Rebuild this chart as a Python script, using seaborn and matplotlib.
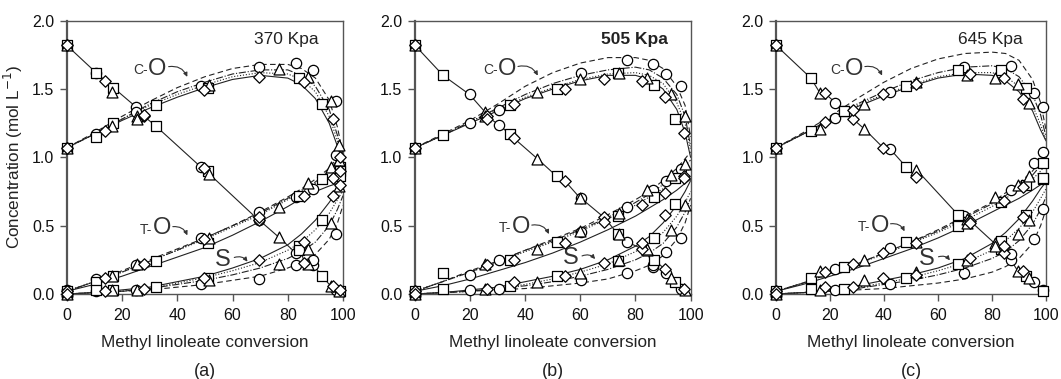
import numpy as np
import pandas as pd
import matplotlib
matplotlib.use("Agg")
import matplotlib.pyplot as plt
import seaborn as sns
from matplotlib.patches import FancyArrowPatch

# ---------------- data ----------------
PANELS = ["(a)", "(b)", "(c)"]
PRESSURES = ["370 Kpa", "505 Kpa", "645 Kpa"]

# Panel (a) experimental points (conversion %, concentrations mol/L)
A_CIR_X = [0, 10.6, 25, 48.5, 69.5, 82.9, 89.3, 97.5]
A_CIR_ML = [1.82, 1.62, 1.37, 0.93, 0.54, 0.30, 0.21, 0.03]
A_CIR_CO = [1.07, 1.17, 1.33, 1.52, 1.66, 1.69, 1.64, 1.41]
A_CIR_TO = [0.03, 0.11, 0.21, 0.41, 0.60, 0.71, 0.77, 1.02]
A_CIR_S = [0.00, 0.02, 0.03, 0.07, 0.11, 0.21, 0.25, 0.44]

A_SQ_X = [0, 10.6, 16.9, 32.2, 51, 84.2, 92.5, 99]
A_SQ_ML = [1.82, 1.62, 1.51, 1.23, 0.90, 0.35, 0.13, 0.02]
A_SQ_CO = [1.07, 1.15, 1.25, 1.38, 1.51, 1.58, 1.39, 0.93]
A_SQ_TO = [0.02, 0.09, 0.13, 0.24, 0.37, 0.72, 0.84, 0.90]
A_SQ_S = [0.00, 0.03, 0.03, 0.05, 0.12, 0.32, 0.545, 0.86]

A_TRI_X = [0, 16.3, 25.6, 51.5, 76.8, 87.5, 95.6, 98.5]
A_TRI_ML = [1.82, 1.48, 1.30, 0.88, 0.415, 0.22, 0.056, 0.02]
A_TRI_CO = [1.07, 1.23, 1.28, 1.53, 1.65, 1.59, 1.41, 1.09]
A_TRI_TO = [0.02, 0.13, 0.22, 0.41, 0.64, 0.81, 0.93, 0.98]
A_TRI_S = [0.00, 0.03, 0.03, 0.10, 0.22, 0.33, 0.52, 0.79]

A_DIA_X = [0, 14, 28, 49.7, 69.7, 86, 96.5, 99]
A_DIA_ML = [1.82, 1.56, 1.30, 0.92, 0.54, 0.23, 0.06, 0.03]
A_DIA_CO = [1.07, 1.19, 1.31, 1.49, 1.59, 1.55, 1.28, 1.00]
A_DIA_TO = [0.02, 0.12, 0.22, 0.40, 0.56, 0.72, 0.85, 0.90]
A_DIA_S = [0.00, 0.02, 0.04, 0.12, 0.25, 0.38, 0.72, 0.80]

# Panel (b)
B_CIR_X = [0, 19.8, 30.4, 60.3, 77, 86.3, 91, 96.5]
B_CIR_ML = [1.82, 1.46, 1.24, 0.70, 0.38, 0.20, 0.15, 0.04]
B_CIR_CO = [1.07, 1.25, 1.35, 1.62, 1.71, 1.68, 1.61, 1.52]
B_CIR_TO = [0.02, 0.14, 0.25, 0.45, 0.64, 0.76, 0.83, 0.915]
B_CIR_S = [0.00, 0.03, 0.04, 0.10, 0.15, 0.21, 0.31, 0.41]

B_SQ_X = [0, 10.2, 34.3, 51.5, 73.6, 86.7, 94.2]
B_SQ_ML = [1.82, 1.60, 1.17, 0.86, 0.44, 0.25, 0.09]
B_SQ_CO = [1.07, 1.16, 1.38, 1.50, 1.62, 1.53, 1.28]
B_SQ_TO = [0.02, 0.15, 0.25, 0.38, 0.57, 0.71, 0.85]
B_SQ_S = [0.00, 0.04, 0.055, 0.13, 0.24, 0.41, 0.66]

B_TRI_X = [0, 25.5, 44.4, 60, 74, 84, 93, 98]
B_TRI_ML = [1.82, 1.33, 0.99, 0.70, 0.44, 0.32, 0.12, 0.03]
B_TRI_CO = [1.07, 1.30, 1.48, 1.57, 1.62, 1.58, 1.46, 1.30]
B_TRI_TO = [0.02, 0.22, 0.33, 0.46, 0.59, 0.76, 0.87, 0.95]
B_TRI_S = [0.00, 0.04, 0.09, 0.15, 0.25, 0.33, 0.47, 0.65]

B_DIA_X = [0, 26, 35.9, 54.3, 68.6, 82.5, 90.8, 97.6]
B_DIA_ML = [1.82, 1.30, 1.14, 0.83, 0.56, 0.33, 0.18, 0.04]
B_DIA_CO = [1.07, 1.28, 1.39, 1.50, 1.57, 1.56, 1.44, 1.18]
B_DIA_TO = [0.02, 0.21, 0.25, 0.37, 0.53, 0.65, 0.74, 0.86]
B_DIA_S = [0.00, 0.04, 0.085, 0.13, 0.23, 0.37, 0.58, 0.85]

# Panel (c)
C_CIR_X = [0, 22, 42.3, 69.5, 86.9, 95.6, 98.7]
C_CIR_ML = [1.82, 1.40, 1.06, 0.57, 0.25, 0.087, 0.03]
C_CIR_CO = [1.07, 1.29, 1.48, 1.66, 1.67, 1.47, 1.37]
C_CIR_TO = [0.02, 0.18, 0.34, 0.53, 0.76, 0.96, 1.04]
C_CIR_S = [0.00, 0.03, 0.075, 0.15, 0.29, 0.40, 0.62]

C_SQ_X = [0, 12.9, 25.3, 48.2, 67.4, 83.5, 92.5, 99]
C_SQ_ML = [1.82, 1.58, 1.34, 0.93, 0.58, 0.33, 0.135, 0.02]
C_SQ_CO = [1.07, 1.19, 1.34, 1.52, 1.64, 1.64, 1.51, 0.96]
C_SQ_TO = [0.02, 0.12, 0.195, 0.38, 0.50, 0.67, 0.80, 0.84]
C_SQ_S = [0.00, 0.04, 0.04, 0.12, 0.22, 0.39, 0.58, 0.85]

C_TRI_X = [0, 16.3, 32.6, 52, 70.7, 81, 89.5, 93.8]
C_TRI_ML = [1.82, 1.47, 1.21, 0.91, 0.55, 0.37, 0.17, 0.12]
C_TRI_CO = [1.07, 1.21, 1.39, 1.55, 1.60, 1.58, 1.54, 1.40]
C_TRI_TO = [0.02, 0.17, 0.25, 0.38, 0.52, 0.71, 0.80, 0.865]
C_TRI_S = [0.00, 0.03, 0.105, 0.16, 0.25, 0.35, 0.44, 0.545]

C_DIA_X = [0, 18, 28.5, 39.7, 51.8, 71.9, 84.4, 91.4]
C_DIA_ML = [1.82, 1.47, 1.28, 1.07, 0.855, 0.535, 0.30, 0.17]
C_DIA_CO = [1.07, 1.26, 1.35, 1.46, 1.54, 1.61, 1.58, 1.43]
C_DIA_TO = [0.02, 0.16, 0.22, 0.30, 0.37, 0.52, 0.68, 0.78]
C_DIA_S = [0.00, 0.05, 0.05, 0.12, 0.14, 0.26, 0.35, 0.56]

# Model curves (read at these conversions)
CURVE_X = [0, 10, 20, 30, 40, 50, 60, 70, 80, 85, 90, 95, 98, 100]

A_CO_SOLID = [1.07, 1.17, 1.27, 1.36, 1.44, 1.51, 1.57, 1.60, 1.58, 1.53, 1.43, 1.25, 1.08, 0.95]
A_CO_DOT = [1.07, 1.17, 1.28, 1.38, 1.46, 1.53, 1.59, 1.62, 1.61, 1.57, 1.48, 1.30, 1.12, 0.98]
A_CO_DASHDOT = [1.07, 1.17, 1.28, 1.39, 1.48, 1.55, 1.61, 1.64, 1.64, 1.60, 1.52, 1.35, 1.16, 1.00]
A_CO_DASH = [1.07, 1.18, 1.30, 1.41, 1.51, 1.59, 1.65, 1.68, 1.68, 1.65, 1.58, 1.42, 1.22, 1.02]
A_TO_SOLID = [0.02, 0.07, 0.13, 0.20, 0.27, 0.34, 0.43, 0.53, 0.64, 0.70, 0.75, 0.79, 0.81, 0.82]
A_TO_DOT = [0.02, 0.09, 0.16, 0.24, 0.32, 0.40, 0.49, 0.58, 0.69, 0.75, 0.81, 0.89, 0.96, 1.00]
A_TO_DASHDOT = [0.02, 0.09, 0.16, 0.24, 0.32, 0.41, 0.50, 0.59, 0.70, 0.76, 0.82, 0.90, 0.98, 1.02]
A_TO_DASH = [0.02, 0.09, 0.17, 0.25, 0.33, 0.41, 0.50, 0.60, 0.71, 0.77, 0.84, 0.92, 1.00, 1.05]
A_S_SOLID = [0.00, 0.01, 0.03, 0.05, 0.09, 0.13, 0.19, 0.26, 0.36, 0.44, 0.54, 0.67, 0.76, 0.82]
A_S_DOT = [0.00, 0.01, 0.02, 0.04, 0.08, 0.12, 0.17, 0.23, 0.32, 0.38, 0.47, 0.59, 0.69, 0.76]
A_S_DASHDOT = [0.00, 0.01, 0.02, 0.04, 0.07, 0.10, 0.14, 0.19, 0.26, 0.31, 0.38, 0.50, 0.62, 0.72]
A_S_DASH = [0.00, 0.01, 0.02, 0.03, 0.05, 0.07, 0.10, 0.13, 0.19, 0.23, 0.29, 0.40, 0.52, 0.65]

B_CO_SOLID = [1.07, 1.16, 1.25, 1.34, 1.43, 1.50, 1.56, 1.60, 1.60, 1.57, 1.50, 1.35, 1.18, 1.00]
B_CO_DOT = [1.07, 1.16, 1.26, 1.35, 1.44, 1.51, 1.57, 1.61, 1.62, 1.60, 1.54, 1.40, 1.25, 1.05]
B_CO_DASHDOT = [1.07, 1.16, 1.26, 1.36, 1.46, 1.54, 1.60, 1.64, 1.66, 1.64, 1.58, 1.46, 1.30, 1.08]
B_CO_DASH = [1.07, 1.17, 1.27, 1.39, 1.52, 1.62, 1.69, 1.73, 1.73, 1.71, 1.65, 1.52, 1.38, 1.15]
B_TO_SOLID = [0.02, 0.06, 0.11, 0.17, 0.23, 0.30, 0.38, 0.47, 0.57, 0.63, 0.69, 0.76, 0.81, 0.84]
B_TO_DOT = [0.02, 0.09, 0.16, 0.23, 0.31, 0.38, 0.46, 0.55, 0.65, 0.71, 0.77, 0.84, 0.89, 0.92]
B_TO_DASHDOT = [0.02, 0.09, 0.16, 0.24, 0.32, 0.39, 0.47, 0.56, 0.67, 0.73, 0.80, 0.88, 0.94, 0.98]
B_TO_DASH = [0.02, 0.09, 0.17, 0.24, 0.32, 0.40, 0.48, 0.58, 0.69, 0.75, 0.83, 0.92, 0.99, 1.04]
B_S_SOLID = [0.00, 0.01, 0.03, 0.05, 0.09, 0.13, 0.18, 0.25, 0.35, 0.42, 0.52, 0.65, 0.75, 0.83]
B_S_DOT = [0.00, 0.01, 0.02, 0.04, 0.07, 0.11, 0.16, 0.22, 0.31, 0.37, 0.45, 0.57, 0.67, 0.75]
B_S_DASHDOT = [0.00, 0.01, 0.02, 0.04, 0.06, 0.09, 0.13, 0.18, 0.25, 0.30, 0.37, 0.49, 0.60, 0.70]
B_S_DASH = [0.00, 0.01, 0.02, 0.03, 0.04, 0.06, 0.08, 0.11, 0.17, 0.21, 0.28, 0.40, 0.52, 0.65]

C_CO_SOLID = [1.07, 1.17, 1.27, 1.37, 1.45, 1.52, 1.58, 1.61, 1.60, 1.56, 1.48, 1.34, 1.20, 1.12]
C_CO_DOT = [1.07, 1.17, 1.28, 1.38, 1.46, 1.53, 1.59, 1.62, 1.62, 1.59, 1.52, 1.38, 1.24, 1.12]
C_CO_DASHDOT = [1.07, 1.17, 1.28, 1.39, 1.48, 1.56, 1.62, 1.66, 1.67, 1.65, 1.59, 1.46, 1.31, 1.15]
C_CO_DASH = [1.07, 1.18, 1.30, 1.43, 1.55, 1.65, 1.72, 1.76, 1.77, 1.76, 1.71, 1.57, 1.40, 1.20]
C_TO_SOLID = [0.02, 0.07, 0.13, 0.19, 0.26, 0.33, 0.41, 0.50, 0.60, 0.65, 0.70, 0.76, 0.80, 0.82]
C_TO_DOT = [0.02, 0.08, 0.15, 0.22, 0.29, 0.37, 0.45, 0.54, 0.64, 0.70, 0.76, 0.84, 0.90, 0.95]
C_TO_DASHDOT = [0.02, 0.08, 0.15, 0.22, 0.30, 0.38, 0.46, 0.56, 0.66, 0.72, 0.79, 0.87, 0.94, 0.99]
C_TO_DASH = [0.02, 0.08, 0.15, 0.22, 0.30, 0.38, 0.47, 0.57, 0.67, 0.74, 0.81, 0.90, 0.98, 1.04]
C_S_SOLID = [0.00, 0.01, 0.03, 0.06, 0.10, 0.14, 0.19, 0.26, 0.37, 0.45, 0.55, 0.68, 0.77, 0.82]
C_S_DOT = [0.00, 0.01, 0.03, 0.05, 0.08, 0.12, 0.17, 0.23, 0.32, 0.39, 0.48, 0.60, 0.70, 0.77]
C_S_DASHDOT = [0.00, 0.01, 0.02, 0.04, 0.07, 0.10, 0.14, 0.19, 0.26, 0.31, 0.39, 0.51, 0.62, 0.71]
C_S_DASH = [0.00, 0.01, 0.02, 0.03, 0.04, 0.06, 0.08, 0.11, 0.16, 0.20, 0.26, 0.37, 0.50, 0.62]

X_TICKS = [0, 20, 40, 60, 80, 100]
Y_TICKS = [0.0, 0.5, 1.0, 1.5, 2.0]

# ---------------- assemble ----------------
EXPS = {
    0: {"o": (A_CIR_X, A_CIR_ML, A_CIR_CO, A_CIR_TO, A_CIR_S),
        "s": (A_SQ_X, A_SQ_ML, A_SQ_CO, A_SQ_TO, A_SQ_S),
        "^": (A_TRI_X, A_TRI_ML, A_TRI_CO, A_TRI_TO, A_TRI_S),
        "D": (A_DIA_X, A_DIA_ML, A_DIA_CO, A_DIA_TO, A_DIA_S)},
    1: {"o": (B_CIR_X, B_CIR_ML, B_CIR_CO, B_CIR_TO, B_CIR_S),
        "s": (B_SQ_X, B_SQ_ML, B_SQ_CO, B_SQ_TO, B_SQ_S),
        "^": (B_TRI_X, B_TRI_ML, B_TRI_CO, B_TRI_TO, B_TRI_S),
        "D": (B_DIA_X, B_DIA_ML, B_DIA_CO, B_DIA_TO, B_DIA_S)},
    2: {"o": (C_CIR_X, C_CIR_ML, C_CIR_CO, C_CIR_TO, C_CIR_S),
        "s": (C_SQ_X, C_SQ_ML, C_SQ_CO, C_SQ_TO, C_SQ_S),
        "^": (C_TRI_X, C_TRI_ML, C_TRI_CO, C_TRI_TO, C_TRI_S),
        "D": (C_DIA_X, C_DIA_ML, C_DIA_CO, C_DIA_TO, C_DIA_S)},
}
CURVES = {
    0: [A_CO_SOLID, A_CO_DOT, A_CO_DASHDOT, A_CO_DASH, A_TO_SOLID, A_TO_DOT, A_TO_DASHDOT, A_TO_DASH,
        A_S_SOLID, A_S_DOT, A_S_DASHDOT, A_S_DASH],
    1: [B_CO_SOLID, B_CO_DOT, B_CO_DASHDOT, B_CO_DASH, B_TO_SOLID, B_TO_DOT, B_TO_DASHDOT, B_TO_DASH,
        B_S_SOLID, B_S_DOT, B_S_DASHDOT, B_S_DASH],
    2: [C_CO_SOLID, C_CO_DOT, C_CO_DASHDOT, C_CO_DASH, C_TO_SOLID, C_TO_DOT, C_TO_DASHDOT, C_TO_DASH,
        C_S_SOLID, C_S_DOT, C_S_DASHDOT, C_S_DASH],
}
LINESTYLES = ["-", ":", "-.", (0, (5, 3))]

sns.set_theme(style="ticks")
plt.rcParams["font.family"] = ["Liberation Sans", "DejaVu Sans"]

fig = plt.figure(figsize=(10.61, 3.79), dpi=100)
lefts = [0.0629, 0.3911, 0.7314]
widths = [0.2604, 0.2598, 0.2545]

MSIZE = {"o": 55, "s": 48, "^": 62, "D": 34}
FRAME = "#555555"

# label positions per panel: (text x, y, arrow tip x, y)
LABELS = {
    0: {"CO": (29.5, 1.65, 44, 1.57), "TO": (31, 0.48, 44, 0.41), "S": (56.5, 0.25, 66, 0.22)},
    1: {"CO": (30, 1.65, 45, 1.58), "TO": (35, 0.49, 49, 0.42), "S": (56.5, 0.26, 66, 0.24)},
    2: {"CO": (25.5, 1.65, 39.7, 1.58), "TO": (35, 0.50, 48, 0.44), "S": (56, 0.255, 65, 0.23)},
}

for p in range(3):
    ax = fig.add_axes([lefts[p], 0.2243, widths[p], 0.7211])
    exps = EXPS[p]
    # ML polyline through all ML points
    ml = pd.DataFrame({"x": sum([list(v[0]) for v in exps.values()], []),
                       "y": sum([list(v[1]) for v in exps.values()], [])}).sort_values("x")
    sns.lineplot(data=ml, x="x", y="y", ax=ax, color="#222222", lw=0.8,
                 estimator=None, sort=True, zorder=2)
    # model curves
    for i, yv in enumerate(CURVES[p]):
        sns.lineplot(x=CURVE_X, y=yv, ax=ax, color="#222222", lw=0.8,
                     linestyle=LINESTYLES[i % 4], estimator=None, zorder=2)
    # experimental markers
    for m, vals in exps.items():
        x = vals[0]
        df = pd.DataFrame({"x": list(x) * 4,
                           "y": list(vals[1]) + list(vals[2]) + list(vals[3]) + list(vals[4])})
        sns.scatterplot(data=df, x="x", y="y", ax=ax, marker=m, s=MSIZE[m],
                        color="white", edgecolor="black", linewidth=0.9,
                        zorder=4, clip_on=False, legend=False)

    ax.set_xlim(0, 100)
    ax.set_ylim(0, 2.0)
    ax.set_xticks(X_TICKS)
    ax.set_yticks(Y_TICKS)
    ax.set_yticklabels([f"{t:.1f}" for t in Y_TICKS])
    ax.tick_params(direction="out", length=5, width=1, color=FRAME,
                   labelsize=11.5, pad=5, labelcolor="#111111")
    ax.tick_params(axis="y", pad=4)
    for side, sp in ax.spines.items():
        sp.set_visible(True)
        sp.set_color(FRAME)
        sp.set_linewidth(1.0)
    ax.spines["left"].set_linewidth(1.6)
    ax.set_xlabel("Methyl linoleate conversion", fontsize=12.3, color="#222222", labelpad=9)
    if p == 0:
        ax.set_ylabel("Concentration (mol L$^{-1}$)", fontsize=12.3, color="#222222", labelpad=5)
    else:
        ax.set_ylabel("")
    ax.text(0.5, -0.285, PANELS[p], transform=ax.transAxes, ha="center", va="center",
            fontsize=13, color="#222222")
    ax.text(79.5, 1.86, PRESSURES[p], ha="center", va="center", fontsize=12.5,
            fontweight="bold" if p == 1 else "normal", color="#222222")

    for key, (tx, ty, ex, ey) in LABELS[p].items():
        if key == "S":
            ax.text(tx, ty, "S", ha="center", va="center", fontsize=17, color="#333333")
            sx = tx + 3.2
        else:
            ax.text(tx, ty, "O", ha="left", va="center", fontsize=17, color="#333333")
            ax.text(tx, ty - 0.01, ("C-" if key == "CO" else "T-"), ha="right", va="center",
                    fontsize=10, color="#333333")
            sx = tx + 6.4
        arr = FancyArrowPatch((sx, ty + 0.01), (ex, ey), connectionstyle="arc3,rad=-0.45",
                              arrowstyle="-|>", mutation_scale=6, lw=0.8, color="#333333",
                              zorder=5)
        ax.add_patch(arr)

fig.savefig("out.png", dpi=100)
